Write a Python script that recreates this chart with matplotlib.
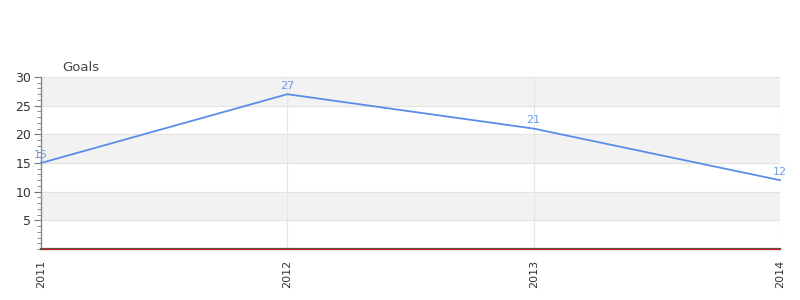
import matplotlib
matplotlib.use("Agg")
import matplotlib.pyplot as plt
from matplotlib.ticker import MultipleLocator

years = ["2011", "2012", "2013", "2014"]
goals = [15, 27, 21, 12]
title = "Goals"

fig = plt.figure(figsize=(8, 3), dpi=100)
ax = fig.add_axes([41/800, 51/300, 739/800, 172/300])

x = list(range(len(years)))
ax.set_xlim(0, len(years) - 1)
ax.set_ylim(0, 30)

# alternating bands
for lo in range(0, 30, 5):
    if (lo // 5) % 2 == 1:
        ax.axhspan(lo, lo + 5, color="#f2f2f2", zorder=0, lw=0)
for v in range(5, 31, 5):
    ax.axhline(v, color="#e2e2e2", lw=0.8, zorder=1)
for xi in x:
    ax.axvline(xi, color="#e6e6e6", lw=0.8, zorder=1)

line_color = "#5a8de8"
ax.plot(x, goals, color=line_color, lw=1.3, zorder=3, clip_on=False)
for xi, g in zip(x, goals):
    ax.text(xi, g + 0.6, str(g), color="#6f9be6", fontsize=8, ha="center",
            va="bottom", zorder=4)

ax.axhline(0.08, color="#cc2020", lw=0.8, zorder=6, clip_on=False)

ax.set_xticks(x)
ax.set_xticklabels(years, rotation=90, fontsize=8, color="#333333")
ax.set_yticks([5, 10, 15, 20, 25, 30])
ax.set_yticklabels(["5", "10", "15", "20", "25", "30"], fontsize=9, color="#333333")
ax.yaxis.set_minor_locator(MultipleLocator(1))
ax.tick_params(axis="y", which="major", length=5, color="#777777", pad=2)
ax.tick_params(axis="y", which="minor", length=3, color="#777777")
ax.tick_params(axis="x", length=0, pad=8)

for s in ["top", "right"]:
    ax.spines[s].set_visible(False)
ax.spines["left"].set_color("#888888")
ax.spines["left"].set_linewidth(1)
ax.spines["bottom"].set_color("#555555")
ax.spines["bottom"].set_linewidth(1.6)
ax.spines["bottom"].set_zorder(5)

fig.text(62/800, 1 - 67/300, title, fontsize=9.5, color="#444444", va="center", ha="left")

fig.savefig("out.png", dpi=100)
